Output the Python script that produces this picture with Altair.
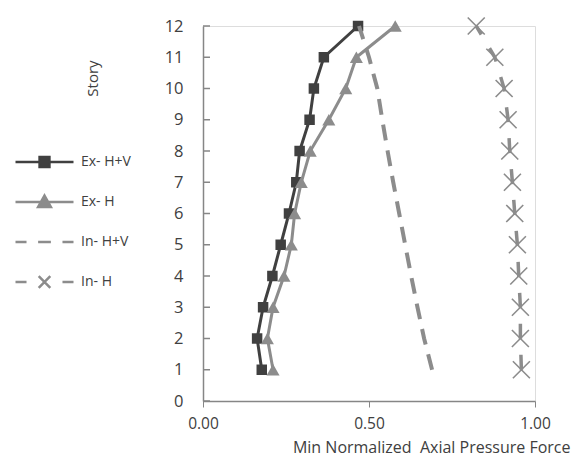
import altair as alt
import pandas as pd

# ---- data ----
stories = list(range(1, 13))
series_names = ["Ex- H+V", "Ex- H", "In- H+V", "In- H"]
ex_hv = [0.177, 0.163, 0.181, 0.209, 0.234, 0.259, 0.281, 0.291, 0.321, 0.334, 0.364, 0.467]
ex_h = [0.211, 0.194, 0.211, 0.244, 0.266, 0.276, 0.296, 0.323, 0.379, 0.430, 0.462, 0.579]
in_hv = [0.690, 0.666, 0.646, 0.627, 0.609, 0.591, 0.573, 0.556, 0.540, 0.525, 0.500, 0.470]
in_h = [0.959, 0.956, 0.956, 0.951, 0.947, 0.939, 0.932, 0.924, 0.919, 0.907, 0.879, 0.823]
x_ticks = [0.0, 0.5, 1.0]
y_ticks = list(range(0, 13))

# ---- tables ----
rows = []
for name, vals in zip(series_names, [ex_hv, ex_h, in_hv, in_h]):
    for s, v in zip(stories, vals):
        rows.append({"series": name, "story": s, "value": v})
df = pd.DataFrame(rows)
ticks_df = pd.DataFrame({"story": y_ticks})
legend_df = df[df["story"] == 1].copy()

FONT = "Open Sans"
DARK = "#404040"
GRAY = "#8c8c8c"
AXIS = "#868686"

x_enc = alt.X(
    "value:Q",
    scale=alt.Scale(domain=[0, 1], nice=False, zero=False),
    axis=alt.Axis(
        values=x_ticks, format=".2f", grid=False, labelFlush=False, labelOverlap=False,
        title="Min Normalized\u00a0 Axial Pressure Force",
        titleX=367, titleY=54, titleAlign="right", titleBaseline="bottom",
        titleFont=FONT, titleFontSize=16, titleFontWeight="normal", titleColor=DARK,
        labelFont=FONT, labelFontSize=15.5, labelColor=DARK, labelPadding=9,
        tickColor=AXIS, tickSize=6, domainColor=AXIS, domainWidth=1.5,
    ),
)
y_enc = alt.Y(
    "story:Q",
    scale=alt.Scale(domain=[0, 12], nice=False, zero=True),
    axis=alt.Axis(
        values=y_ticks, format="d", grid=False, ticks=False,
        labelOverlap=False, labelFlush=False,
        title="Story", titleAngle=270, titleX=-111, titleY=52,
        titleAlign="center", titleBaseline="middle",
        titleFont=FONT, titleFontSize=15, titleFontWeight="normal", titleColor=DARK,
        labelFont=FONT, labelFontSize=16.5, labelColor=DARK, labelPadding=20,
        domainColor=AXIS, domainWidth=1.5,
    ),
)

base = alt.Chart(df).encode(x=x_enc, y=y_enc, order=alt.Order("story:Q"))


def sel(name):
    return alt.datum.series == name


ytick_layer = alt.Chart(ticks_df).mark_rule(color=AXIS, strokeWidth=1.5).encode(
    y=y_enc,
    x=alt.value(0), x2=alt.value(7),
)

exhv_line = base.transform_filter(sel("Ex- H+V")).mark_line(color=DARK, strokeWidth=3)
exhv_pts = base.transform_filter(sel("Ex- H+V")).mark_point(
    shape="square", filled=True, color=DARK, size=110, opacity=1)

exh_line = base.transform_filter(sel("Ex- H")).mark_line(color=GRAY, strokeWidth=3)
exh_pts = base.transform_filter(sel("Ex- H")).mark_point(
    shape="triangle-up", filled=True, color=GRAY, size=170, opacity=1)

inhv_line = base.transform_filter(sel("In- H+V")).mark_line(
    color=GRAY, strokeWidth=4, strokeDash=[16, 10])

inh_line = base.transform_filter(sel("In- H")).mark_line(
    color=GRAY, strokeWidth=3.5, strokeDash=[15, 16])
inh_pts = base.transform_filter(sel("In- H")).mark_point(
    shape="M-1,-1L1,1M-1,1L1,-1", filled=False, color=GRAY, size=289,
    strokeWidth=1.6, opacity=1)

# legend symbols: line + marker in one custom path
legend_paths = [
    "M-1,0H1M-0.17,-0.17H0.17V0.17H-0.17Z",
    "M-1,0H1M0,-0.22L0.22,0.17H-0.22Z",
    "M-1,0H-0.62M-0.22,0H0.22M0.62,0H1",
    "M-1,0H-0.62M0.62,0H1M-0.2,-0.2L0.2,0.2M-0.2,0.2L0.2,-0.2",
]
legend_strokes = [DARK, GRAY, GRAY, GRAY]
legend_fills = [DARK, GRAY, GRAY, GRAY]
leg = alt.Legend(
    title=None, orient="none", legendX=-189, legendY=126, direction="vertical",
    symbolSize=3364, symbolStrokeWidth=2.5, symbolOpacity=1,
    clipHeight=20, rowPadding=20, labelOffset=6, padding=0,
    labelFont=FONT, labelFontSize=14, labelColor=DARK,
)
legend_layer = alt.Chart(legend_df).mark_point(opacity=0, strokeWidth=2.5).encode(
    x=x_enc,
    y=y_enc,
    shape=alt.Shape("series:N", scale=alt.Scale(domain=series_names, range=legend_paths), legend=leg),
    stroke=alt.Stroke("series:N", scale=alt.Scale(domain=series_names, range=legend_strokes), legend=leg),
    fill=alt.Fill("series:N", scale=alt.Scale(domain=series_names, range=legend_fills), legend=leg),
)

chart = alt.layer(
    ytick_layer,
    exhv_line, exhv_pts,
    exh_line, exh_pts,
    inhv_line,
    inh_line, inh_pts,
    legend_layer,
).properties(
    width=332, height=375,
    autosize=alt.AutoSizeParams(type="none"),
    padding={"left": 195, "top": 18, "right": 36, "bottom": 55},
).configure_view(stroke=None).configure(background="white")

chart.save("out.html", embed_options={"renderer": "svg", "actions": False})
